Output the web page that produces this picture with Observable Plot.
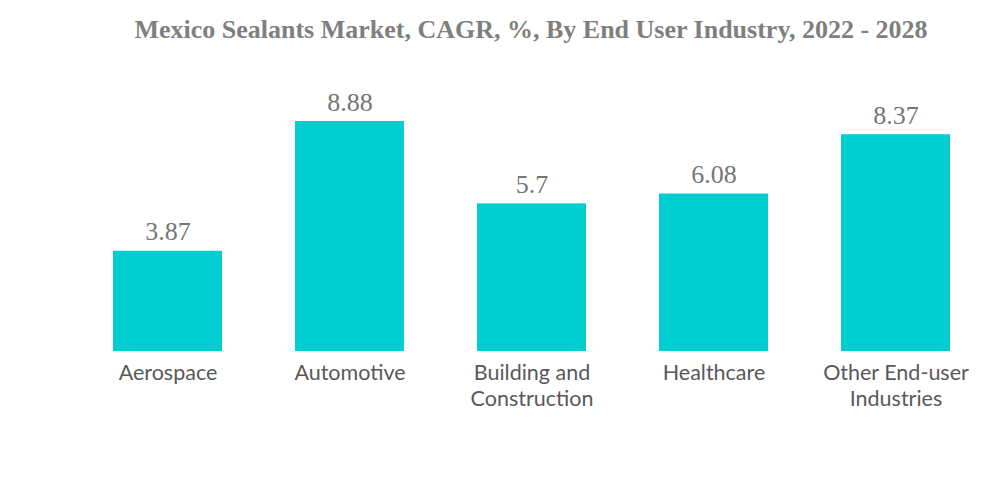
<!DOCTYPE html>
<html><head><meta charset="utf-8">
<script src="https://cdn.jsdelivr.net/npm/d3@7"></script>
<script src="https://cdn.jsdelivr.net/npm/@observablehq/plot@0.6"></script>
<style>
body{margin:0;background:#fff;width:1000px;height:483px;overflow:hidden}
#title{position:absolute;left:62px;top:15px;width:938px;text-align:center;font-family:"Liberation Serif","Times New Roman",serif;font-weight:bold;font-size:26px;color:#7f7f7f;}
#chart{position:absolute;left:0;top:60px}
</style></head><body>
<div id="title">Mexico Sealants Market, CAGR, %, By End User Industry, 2022 - 2028</div>
<div id="chart"></div>
<script>
const categories = ["Aerospace","Automotive","Building and\nConstruction","Healthcare","Other End-user\nIndustries"];
const values = [3.87, 8.88, 5.7, 6.08, 8.37];
const data = categories.map((c,i)=>({category:c, value:values[i]}));
const plot = Plot.plot({
  width: 1000, height: 423,
  marginLeft: 76.6, marginRight: 13.4, marginTop: 0, marginBottom: 0,
  x: {domain: categories, paddingInner: 0.4, paddingOuter: 0.2, label: null},
  y: {domain: [0, 10], range: [291, 32], axis: null},
  marks: [
    Plot.barY(data, {x: "category", y: "value", fill: "#00CED1"}),
    Plot.text(data, {x: "category", y: "value", text: d => String(d.value), dy: -11, lineAnchor: "bottom", fontFamily: "'Liberation Serif', 'Times New Roman', serif", fontSize: 26, fill: "#767676"}),
    Plot.axisX({anchor: "bottom", tickSize: 0, tickPadding: 0, dy: -122, fontSize: 21.5, fontFamily: "Lato, 'Open Sans', sans-serif", color: "#595959", lineHeight: 1.21, textAnchor: "middle", label: null})
  ]
});
document.getElementById("chart").appendChild(plot);
</script>
</body></html>
